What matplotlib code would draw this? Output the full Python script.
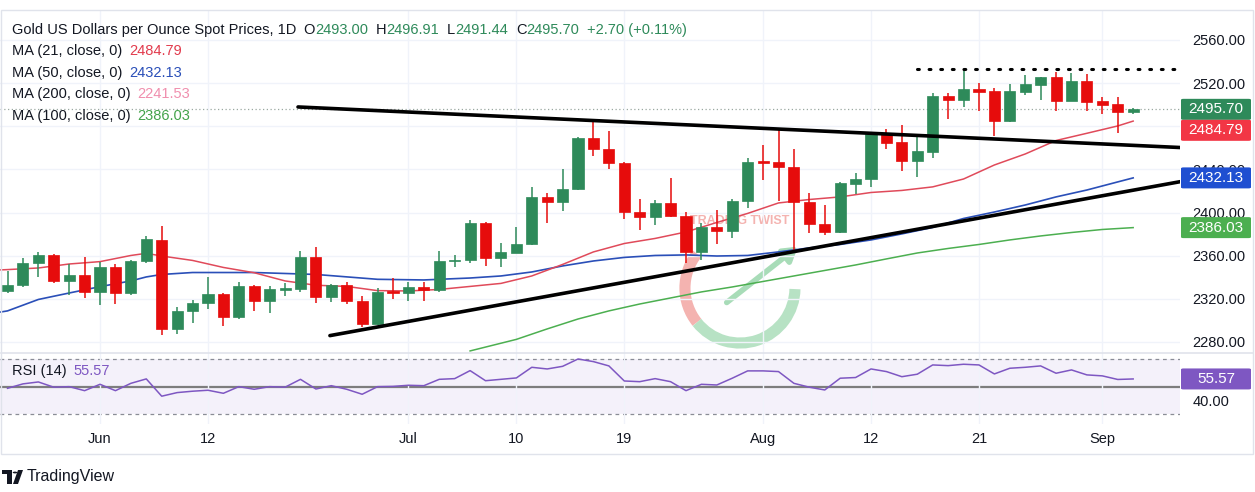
import numpy as np
import pandas as pd
import matplotlib
matplotlib.use("Agg")
import matplotlib.pyplot as plt
from matplotlib.patches import Rectangle, FancyBboxPatch, Arc, Polygon, Circle
from matplotlib.lines import Line2D

# ---------------- data ----------------
start_date = "2024-05-24"
end_date = "2024-09-04"

opens = [2327.6, 2332.9, 2353.0, 2360.7, 2336.8, 2342.1, 2326.1, 2349.3, 2325.7, 2355.1,
         2374.6, 2292.1, 2309.0, 2315.9, 2324.2, 2302.9, 2331.9, 2318.3, 2328.9, 2328.9,
         2359.1, 2321.5, 2332.9, 2318.3, 2296.7, 2327.6, 2325.7, 2330.7, 2328.2, 2355.4,
         2356.0, 2390.6, 2358.2, 2362.5, 2370.6, 2414.7, 2410.1, 2421.6, 2468.9, 2459.2,
         2445.7, 2400.8, 2395.6, 2409.2, 2397.1, 2363.7, 2386.9, 2382.9, 2410.7, 2447.8,
         2446.6, 2442.5, 2409.5, 2389.4, 2382.3, 2426.5, 2430.9, 2472.9, 2465.2, 2447.8,
         2456.4, 2508.1, 2504.4, 2514.3, 2512.7, 2484.9, 2512.1, 2518.6, 2525.4, 2503.7,
         2522.0, 2503.7, 2500.4, 2493.00]
highs = [2346.1, 2357.6, 2363.7, 2361.6, 2352.3, 2359.1, 2354.5, 2352.3, 2356.0, 2378.3,
         2387.6, 2312.2, 2319.0, 2340.6, 2325.7, 2335.9, 2332.5, 2331.9, 2334.4, 2364.7,
         2368.4, 2333.5, 2335.9, 2322.7, 2329.8, 2339.1, 2335.9, 2335.9, 2364.7, 2360.7,
         2393.1, 2391.5, 2371.5, 2386.4, 2424.0, 2418.4, 2440.1, 2470.0, 2485.8, 2475.9,
         2446.5, 2412.3, 2411.7, 2431.8, 2400.8, 2390.6, 2402.4, 2412.3, 2450.9, 2462.7,
         2477.2, 2458.7, 2417.9, 2407.0, 2428.0, 2437.0, 2474.1, 2477.2, 2481.2, 2470.4,
         2510.6, 2510.6, 2532.2, 2519.9, 2515.2, 2519.2, 2527.6, 2526.0, 2530.1, 2529.1,
         2528.2, 2507.4, 2506.9, 2496.91]
lows = [2325.2, 2331.0, 2340.0, 2334.4, 2323.6, 2320.5, 2314.3, 2315.2, 2324.0, 2353.0,
        2286.5, 2287.5, 2297.3, 2310.3, 2294.8, 2301.3, 2309.0, 2306.6, 2322.7, 2326.6,
        2316.4, 2317.4, 2315.2, 2293.6, 2295.8, 2319.6, 2318.3, 2318.3, 2326.6, 2349.8,
        2353.0, 2350.5, 2349.3, 2362.2, 2370.0, 2390.6, 2401.5, 2421.0, 2452.5, 2440.4,
        2393.8, 2383.8, 2388.5, 2396.0, 2353.0, 2356.0, 2370.9, 2376.2, 2404.0, 2430.2,
        2411.0, 2365.3, 2381.3, 2379.2, 2381.3, 2417.2, 2424.0, 2458.7, 2438.8, 2432.7,
        2450.9, 2486.5, 2498.2, 2494.5, 2471.3, 2484.0, 2509.0, 2504.4, 2494.2, 2503.0,
        2494.2, 2491.1, 2473.5, 2491.44]
closes = [2332.9, 2353.0, 2360.7, 2336.8, 2342.1, 2326.1, 2349.3, 2325.7, 2355.1, 2375.2,
          2292.1, 2309.0, 2315.9, 2324.2, 2302.9, 2331.9, 2318.3, 2328.9, 2329.2, 2359.1,
          2321.5, 2332.9, 2318.3, 2296.7, 2326.1, 2325.7, 2330.7, 2328.2, 2355.4, 2356.0,
          2390.6, 2358.2, 2363.2, 2370.6, 2414.7, 2410.1, 2421.9, 2468.9, 2458.7, 2445.7,
          2400.8, 2395.6, 2409.2, 2396.8, 2363.7, 2386.9, 2382.6, 2411.0, 2447.2, 2446.3,
          2442.5, 2409.5, 2389.4, 2382.3, 2427.1, 2430.9, 2472.9, 2464.8, 2447.8, 2457.1,
          2508.1, 2504.4, 2514.3, 2512.1, 2484.9, 2512.7, 2518.9, 2525.4, 2503.7, 2522.0,
          2502.8, 2499.7, 2493.0, 2495.70]

ma21_idx = [-1, 0, 2, 4, 6, 8, 9, 10, 12, 14, 16, 18, 20, 22, 24, 26, 28, 30, 32, 34, 36, 38,
            40, 42, 44, 46, 48, 50, 52, 54, 56, 58, 60, 62, 64, 66, 68, 70, 72, 73]
ma21_val = [2346.5, 2347.1, 2348.6, 2352.3, 2354.5, 2360.2, 2362.2, 2359.7, 2355.6, 2349.1,
            2344.2, 2336.6, 2332.6, 2331.5, 2327.6, 2327.3, 2328.7, 2331.5, 2334.3, 2341.2,
            2351.9, 2363.5, 2371.3, 2376.0, 2382.0, 2390.8, 2399.2, 2408.9, 2412.1, 2414.5,
            2418.6, 2420.5, 2423.8, 2431.1, 2444.1, 2454.3, 2466.8, 2473.5, 2480.3, 2484.79]
ma50_idx = [-1, 0, 2, 4, 6, 8, 9, 10, 12, 16, 20, 24, 27, 30, 32, 34, 36, 38, 40, 42, 44, 46,
            48, 50, 52, 54, 56, 58, 60, 62, 64, 66, 68, 70, 72, 73]
ma50_val = [2306.5, 2308.8, 2319.4, 2325.4, 2331.3, 2336.6, 2340.3, 2342.6, 2344.4, 2344.4,
            2342.6, 2338.1, 2337.5, 2339.3, 2341.2, 2344.9, 2350.5, 2355.1, 2358.4, 2360.2,
            2360.7, 2359.7, 2360.2, 2363.5, 2367.2, 2370.4, 2374.6, 2380.2, 2386.2, 2394.5,
            2400.5, 2407.0, 2414.5, 2420.9, 2428.4, 2432.13]
ma100_idx = [30, 33, 35, 37, 39, 41, 43, 45, 47, 49, 51, 53, 55, 57, 59, 61, 63, 65, 67, 69, 71, 73]
ma100_val = [2271.7, 2282.4, 2292.1, 2301.3, 2308.8, 2315.2, 2320.8, 2326.4, 2331.0, 2336.1,
             2341.2, 2346.3, 2351.4, 2357.0, 2362.5, 2366.7, 2370.4, 2374.6, 2378.3, 2381.5,
             2384.3, 2386.03]

rsi = [48.8, 52.0, 53.4, 49.6, 50.0, 47.1, 51.7, 47.1, 52.4, 55.6,
       43.1, 45.7, 46.7, 47.4, 45.2, 50.0, 48.1, 50.0, 49.6, 55.3,
       48.3, 50.7, 48.1, 44.5, 50.0, 50.2, 51.0, 50.7, 55.3, 55.8,
       61.6, 54.3, 55.3, 56.3, 64.0, 62.8, 64.7, 70.0, 68.1, 65.0,
       54.1, 53.6, 55.8, 53.6, 47.1, 51.7, 51.2, 56.1, 61.4, 61.4,
       60.9, 52.4, 49.6, 47.6, 56.1, 56.6, 62.8, 60.9, 57.2, 59.0,
       65.7, 65.2, 66.2, 65.7, 59.2, 63.3, 64.0, 65.0, 59.7, 62.1,
       58.5, 57.8, 55.2, 55.57]

legend_names = ["MA (21, close, 0)", "MA (50, close, 0)", "MA (200, close, 0)", "MA (100, close, 0)"]
legend_values = ["2484.79", "2432.13", "2241.53", "2386.03"]
legend_colors = ["#e23b4d", "#2a4fb8", "#f08fae", "#43a34a"]

price_ticks = [2280, 2320, 2360, 2400, 2440, 2480, 2520, 2560]
price_labels = ["2280.00", "2320.00", "2360.00", "2400.00", "2440.00", "", "2520.00", "2560.00"]
tick_dates = ["2024-06-03", "2024-06-12", "2024-07-01", "2024-07-10", "2024-07-19",
              "2024-08-01", "2024-08-12", "2024-08-21", "2024-09-02"]
tick_labels = ["Jun", "12", "Jul", "10", "19", "Aug", "12", "21", "Sep"]

# trendlines: (bar index, price)
upper_line = [(18.84, 2497.9), (76.04, 2460.3)]
lower_line = [(20.91, 2285.9), (76.04, 2428.6)]
resistance_level = 2533.0
resistance_start = 59.0

header_title = "Gold US Dollars per Ounce Spot Prices, 1D"
last_change = "+2.70 (+0.11%)"

# ---------------- figure ----------------
W, H = 1255, 492
plt.rcParams['font.family'] = ['Liberation Sans', 'DejaVu Sans']
fig = plt.figure(figsize=(W / 100, H / 100), dpi=100)
fig.patch.set_facecolor("white")

GREEN = "#2e8a5a"
RED = "#e60c0c"
TXT = "#131722"
FS = 10.5

dates = pd.bdate_range(start_date, end_date)
x = np.arange(len(dates))
o = np.array(opens); h = np.array(highs); l = np.array(lows); c = np.array(closes)

ax = fig.add_axes([0, 1 - 352 / H, 1180 / W, 342 / H])
axr = fig.add_axes([0, 1 - 424 / H, 1180 / W, 72 / H], sharex=ax)
for a in (ax, axr):
    a.set_facecolor("none")
    for s in a.spines.values():
        s.set_visible(False)

xl = (-7.5 / 15.42, (1180 - 7.5) / 15.42)
ax.set_xlim(*xl)
ax.set_ylim(2270.7, 2587.8)
axr.set_ylim(22.99, 75.06)

tick_pos = [int(np.where(dates == pd.Timestamp(d))[0][0]) for d in tick_dates]
ax.set_xticks(tick_pos)
ax.tick_params(axis="x", length=0, labelbottom=False)
axr.tick_params(axis="x", length=0, labelsize=FS, labelcolor=TXT, pad=6)
axr.set_xticks(tick_pos)
axr.set_xticklabels(tick_labels)

ax.yaxis.tick_right()
ax.set_yticks(price_ticks)
ax.set_yticklabels(price_labels)
ax.tick_params(axis="y", length=0, labelsize=FS, labelcolor=TXT, pad=9)
ax.grid(True, color="#f0f3fa", lw=1, zorder=0)
axr.grid(True, axis="x", color="#f0f3fa", lw=1, zorder=0)

axr.yaxis.tick_right()
axr.set_yticks([40])
axr.set_yticklabels(["40.00"])
axr.tick_params(axis="y", length=0, labelsize=FS, labelcolor=TXT, pad=9)

# watermark (approximate Trading Twist logo)
cx, cy = 47.5, 2330.0
wdt, hgt = 110 / 15.42, 110 / 1.0786
ax.add_patch(Arc((cx, cy), wdt, hgt, theta1=95, theta2=265, color="#f4b3b0", lw=8, zorder=1))
ax.add_patch(Arc((cx, cy), wdt, hgt, theta1=265, theta2=345, color="#b7e2c4", lw=8, zorder=1))
ax.annotate("", xy=(cx + 3.9, cy + 40), xytext=(cx - 1.0, cy - 15),
            arrowprops=dict(arrowstyle="-|>,head_width=0.5,head_length=0.8", color="#a8dcb8", lw=4),
            zorder=1)
ax.text(cx, cy + 62, "TRADING TWIST", ha="center", va="center", fontsize=9, color="#f4b3b0",
        fontweight="bold", zorder=1)

# current price line
ax.axhline(closes[-1], color="#9aa8a0", lw=0.9, ls=(0, (1, 2)), zorder=1)

# moving averages
ax.plot(ma100_idx, ma100_val, color="#4caf50", lw=1.1, zorder=2)
ax.plot(ma50_idx, ma50_val, color="#2a4fb8", lw=1.2, zorder=2)
ax.plot(ma21_idx, ma21_val, color="#e04a5a", lw=1.1, zorder=2)

# candles
cols = np.where(c >= o, GREEN, RED)
ax.vlines(x, l, h, colors=cols, lw=1.1, zorder=3)
body = np.where(np.abs(c - o) < 1.2, 1.2, c - o)
ax.bar(x, body, bottom=np.where(np.abs(c - o) < 1.2, (o + c) / 2 - 0.6, o), width=0.72,
       color=cols, edgecolor=cols, lw=0.5, zorder=4)

# trendlines
ax.plot([p[0] for p in upper_line], [p[1] for p in upper_line], color="black", lw=2.6,
        solid_capstyle="round", zorder=5)
ax.plot([p[0] for p in lower_line], [p[1] for p in lower_line], color="black", lw=2.6,
        solid_capstyle="round", zorder=5)
ax.plot([resistance_start, xl[1]], [resistance_level, resistance_level], color="black", lw=2.2,
        ls=(0, (0.6, 3.2)), dash_capstyle="round", zorder=5)

# RSI pane
axr.axhspan(30, 70, color="#7e57c2", alpha=0.08, lw=0, zorder=0)
axr.axhline(70, color="#8a8d96", lw=0.9, ls=(0, (3, 3)), zorder=1)
axr.axhline(30, color="#8a8d96", lw=0.9, ls=(0, (3, 3)), zorder=1)
axr.axhline(50, color="#7d7d7d", lw=1.6, zorder=1)
axr.plot(x, rsi, color="#7e57c2", lw=1.1, zorder=3)

# frame and separators
fig.add_artist(Rectangle((1 / W, 1 - 454 / H), 1252 / W, 444 / H, transform=fig.transFigure,
                         fill=False, ec="#e0e3eb", lw=1))
fig.add_artist(Line2D([1 / W, 1253 / W], [1 - 352.5 / H, 1 - 352.5 / H], transform=fig.transFigure,
                      color="#e0e3eb", lw=1.2))

# ---------------- texts ----------------
fig.canvas.draw()
rend = fig.canvas.get_renderer()


def seq_text(x0, yp, parts, fs=FS):
    xc = x0
    for s, col, gap in parts:
        t = fig.text(xc / W, 1 - yp / H, s, color=col, fontsize=fs, ha="left", va="center")
        bb = t.get_window_extent(rend)
        xc = bb.x1 + gap
    return xc


hx = seq_text(12, 30, [(header_title, TXT, 7)])
hx = seq_text(hx, 30, [("O", TXT, 0), (f"{opens[-1]:.2f}", GREEN, 8)])
hx = seq_text(hx, 30, [("H", TXT, 0), (f"{highs[-1]:.2f}", GREEN, 8)])
hx = seq_text(hx, 30, [("L", TXT, 0), (f"{lows[-1]:.2f}", GREEN, 8)])
hx = seq_text(hx, 30, [("C", TXT, 0), (f"{closes[-1]:.2f}", GREEN, 8)])
seq_text(hx, 30, [(last_change, GREEN, 0)])

for i, (nm, val, col) in enumerate(zip(legend_names, legend_values, legend_colors)):
    seq_text(12, 51 + 21.7 * i, [(nm, TXT, 7), (val, col, 0)])

seq_text(12, 371, [("RSI (14)", TXT, 7), (f"{rsi[-1]:.2f}", "#7e57c2", 0)])

# price scale value boxes
boxes = [(closes[-1], GREEN), (ma21_val[-1], "#f23645"), (ma50_val[-1], "#1f4fd1"),
         (ma100_val[-1], "#4caf50")]
bh = 21
prev = -1e9
for val, col in sorted(boxes, key=lambda b: -b[0]):
    ypix = H - ax.transData.transform((0, val))[1]
    ypix = max(ypix, prev + bh)
    prev = ypix
    fig.add_artist(FancyBboxPatch((1181 / W, 1 - (ypix + bh / 2) / H), 70 / W, bh / H,
                                  boxstyle="round,pad=0,rounding_size=0.002",
                                  transform=fig.transFigure, fc=col, ec="none"))
    fig.text(1216 / W, 1 - ypix / H, f"{val:.2f}", color="white", fontsize=FS + 0.5,
             ha="center", va="center")

ypix = H - axr.transData.transform((0, rsi[-1]))[1]
fig.add_artist(FancyBboxPatch((1181 / W, 1 - (ypix + bh / 2) / H), 70 / W, bh / H,
                              boxstyle="round,pad=0,rounding_size=0.002",
                              transform=fig.transFigure, fc="#7e57c2", ec="none"))
fig.text(1216 / W, 1 - ypix / H, f"{rsi[-1]:.2f}", color="white", fontsize=FS + 0.5,
         ha="center", va="center")

# TradingView logo
fig.add_artist(Rectangle((2 / W, 1 - 474 / H), 10 / W, 4 / H, transform=fig.transFigure,
                         fc="#131722", ec="none"))
fig.add_artist(Rectangle((7 / W, 1 - 484 / H), 5 / W, 14 / H, transform=fig.transFigure,
                         fc="#131722", ec="none"))
fig.add_artist(Circle((15 / W, 1 - 472.5 / H), 2.3 / W, transform=fig.transFigure,
                      fc="#131722", ec="none"))
fig.add_artist(Polygon([(18 / W, 1 - 470 / H), (23 / W, 1 - 470 / H), (18 / W, 1 - 484 / H),
                        (13 / W, 1 - 484 / H)], closed=True, transform=fig.transFigure,
                       fc="#131722", ec="none"))
fig.text(27 / W, 1 - 477 / H, "TradingView", color="#131722", fontsize=11.5, ha="left",
         va="center")

fig.savefig("out.png", dpi=100, facecolor="white")
